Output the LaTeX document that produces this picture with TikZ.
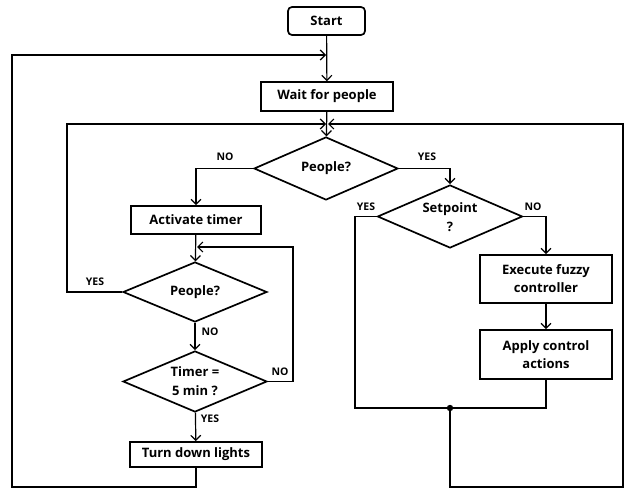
\documentclass[tikz,border=0pt]{standalone}
\usepackage{fontspec}
\setmainfont{Open Sans}
\usetikzlibrary{shapes.geometric,arrows.meta}
\begin{document}
\begin{tikzpicture}[x=1pt,y=-1pt,
  font=\bfseries\fontsize{13}{17}\selectfont,
  box/.style={draw,line width=1.7pt,minimum width=#1,inner sep=0pt,align=center},
  dia/.style={draw,diamond,line width=1.7pt,inner sep=0pt},
  txt/.style={inner sep=0pt,align=center},
  conn/.style={line width=1.2pt},
  arr/.style={conn,-{Straight Barb[length=5pt,width=10pt,line width=1.2pt]}},
  lbl/.style={inner sep=0pt,font=\bfseries\fontsize{10.5}{12}\selectfont}]
\useasboundingbox (0,0) rectangle (627,489);
% nodes
\node[box=77pt,minimum height=28pt,rounded corners=4pt] (start) at (326.5,21) {Start};
\node[box=132pt,minimum height=29pt] (wait) at (327,96.5) {Wait for people};
\node[dia,minimum width=144pt,minimum height=63pt] (d1) at (326,168.5) {};
\node[txt] (d1t) at (d1) {People?};
\node[box=130pt,minimum height=28pt] (act) at (196,220) {Activate timer};
\node[dia,minimum width=144pt,minimum height=60pt] (d2) at (195,292) {};
\node[txt] (d2t) at (d2) {People?};
\node[dia,minimum width=144pt,minimum height=61pt] (d3) at (195,381.5) {};
\node[txt] (d3t) at (d3) {Timer =\\[2pt]5 min ?};
\node[box=132pt,minimum height=25pt] (turn) at (196,454.5) {Turn down lights};
\node[dia,minimum width=145pt,minimum height=63pt] (sp) at (450,216.5) {};
\node[txt] (spt) at ([yshift=-1pt]sp.center) {Setpoint\\[2pt]?};
\node[box=132pt,minimum height=48pt] (exec) at (546,279) {Execute fuzzy\\[1pt]controller};
\node[box=132pt,minimum height=49pt] (apply) at (546,354.5) {Apply control\\[1pt]actions};
% junction coordinates
\coordinate (j1) at (327,55);
\coordinate (j2) at (327,124);
\coordinate (j3) at (196,247);
\coordinate (m) at (450,408);
% main flow
\draw[arr] (start) -- (wait);
\draw[arr] (wait) -- (d1);
\draw[arr] (d1.west) -| (act.north);
\draw[arr] (d1.east) -| (sp.north);
\draw[arr] (act) -- (d2);
\draw[arr] (d2) -- (d3);
\draw[arr] (d3) -- (turn);
\draw[arr] (sp.east) -| (exec.north);
\draw[arr] (exec) -- (apply);
% loops
\draw[arr,shorten >=1pt] (turn.south) -- (196,487) -| (12,55) -- (j1);
\draw[arr,shorten >=1pt] (d2.west) -| (67,124) -- (j2);
\draw[arr,shorten >=1pt] (d3.east) -| (293,247) -- (j3);
\draw[conn] (sp.west) -| (355,408) -- (m);
\draw[conn] (apply.south) |- (m);
\draw[arr,shorten >=1pt] (m) -- (450,487) -| (623,124) -- (j2);
\fill (m) circle (3.2pt);
% labels
\node[lbl] at (225,157) {NO};
\node[lbl] at (427,157) {YES};
\node[lbl] at (366,207) {YES};
\node[lbl] at (533,207) {NO};
\node[lbl] at (95,282) {YES};
\node[lbl] at (210,332) {NO};
\node[lbl] at (280,372) {NO};
\node[lbl] at (210,419) {YES};
\end{tikzpicture}
\end{document}
